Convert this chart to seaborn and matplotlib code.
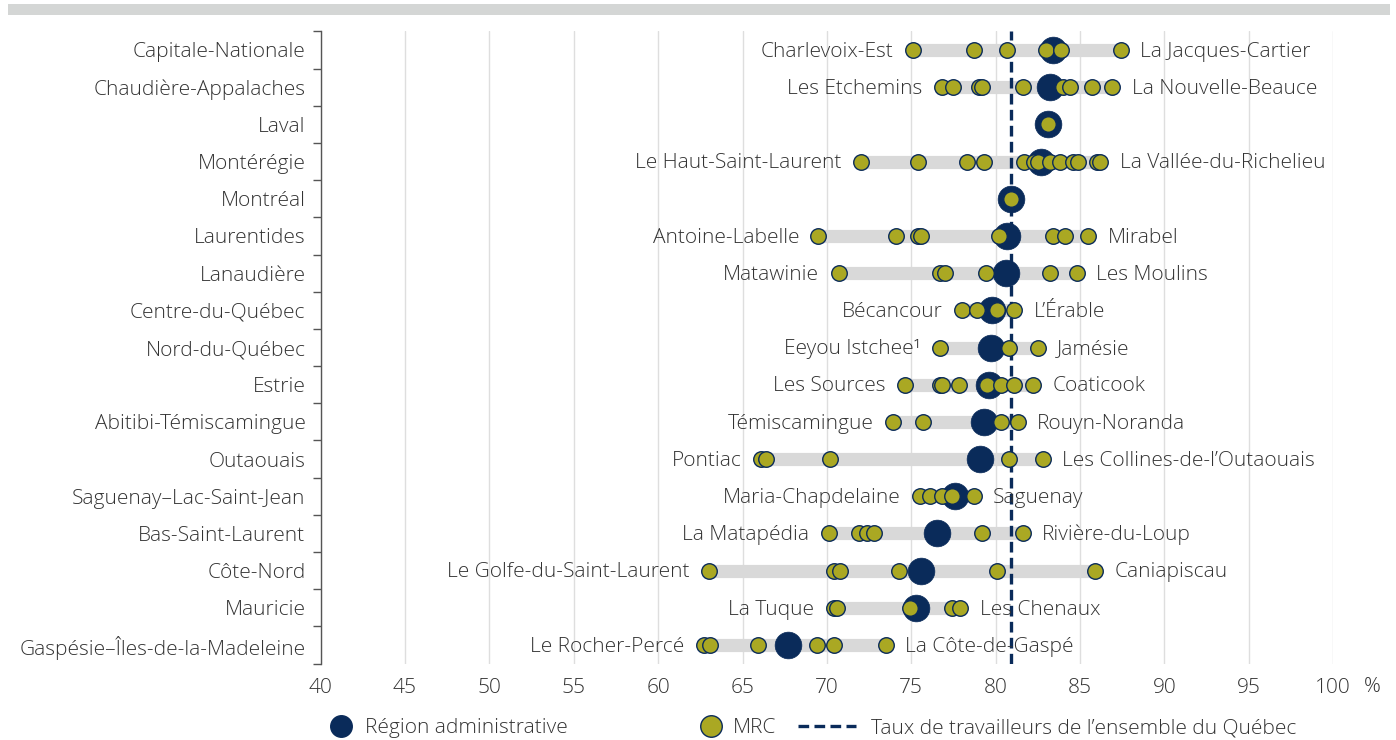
import numpy as np
import pandas as pd
import matplotlib.pyplot as plt
import seaborn as sns
from matplotlib.lines import Line2D
from matplotlib.patches import Rectangle
import matplotlib.transforms as mtransforms

# regions, top to bottom
regions = ['Capitale-Nationale', 'Chaudière-Appalaches', 'Laval', 'Montérégie', 'Montréal',
           'Laurentides', 'Lanaudière', 'Centre-du-Québec', 'Nord-du-Québec', 'Estrie',
           'Abitibi-Témiscamingue', 'Outaouais', 'Saguenay–Lac-Saint-Jean', 'Bas-Saint-Laurent',
           'Côte-Nord', 'Mauricie', 'Gaspésie–Îles-de-la-Madeleine']

region_rates = [83.4, 83.2, 83.1, 82.7, 80.9, 80.7, 80.6, 79.8, 79.7, 79.6,
                79.3, 79.1, 77.6, 76.5, 75.6, 75.3, 67.7]

mrc_rates = [
    [75.1, 78.7, 80.7, 83.0, 83.9, 87.4],
    [76.8, 77.5, 79.0, 79.2, 81.6, 84.0, 84.4, 85.7, 86.9],
    [83.1],
    [72.0, 75.4, 78.3, 79.3, 81.7, 82.3, 82.5, 83.2, 83.8, 84.6, 84.9, 86.0, 86.2],
    [80.9],
    [69.5, 74.1, 75.4, 75.6, 80.2, 83.4, 84.1, 85.5],
    [70.7, 76.7, 77.0, 79.4, 83.2, 84.8],
    [78.0, 78.9, 80.1, 81.1],
    [76.7, 80.8, 82.5],
    [74.6, 76.7, 76.8, 77.8, 79.4, 79.5, 80.3, 81.1, 82.2],
    [73.9, 75.7, 80.3, 81.3],
    [66.1, 66.4, 70.2, 80.8, 82.8],
    [75.5, 76.1, 76.8, 77.4, 78.7],
    [70.1, 71.9, 72.4, 72.8, 79.2, 81.6],
    [63.0, 70.4, 70.8, 74.3, 80.1, 85.9],
    [70.4, 70.6, 74.9, 77.4, 77.9],
    [62.7, 63.1, 65.9, 69.4, 70.4, 73.5],
]

low_names = ['Charlevoix-Est', 'Les Etchemins', '', 'Le Haut-Saint-Laurent', '',
             'Antoine-Labelle', 'Matawinie', 'Bécancour', 'Eeyou Istchee¹', 'Les Sources',
             'Témiscamingue', 'Pontiac', 'Maria-Chapdelaine', 'La Matapédia',
             'Le Golfe-du-Saint-Laurent', 'La Tuque', 'Le Rocher-Percé']
high_names = ['La Jacques-Cartier', 'La Nouvelle-Beauce', '', 'La Vallée-du-Richelieu', '',
              'Mirabel', 'Les Moulins', 'L’Érable', 'Jamésie', 'Coaticook',
              'Rouyn-Noranda', 'Les Collines-de-l’Outaouais', 'Saguenay', 'Rivière-du-Loup',
              'Caniapiscau', 'Les Chenaux', 'La Côte-de-Gaspé']

quebec_rate = 80.9
x_ticks = [40, 45, 50, 55, 60, 65, 70, 75, 80, 85, 90, 95, 100]

navy = '#0a2b5a'
olive = '#aaa823'
bar_grey = '#d9d9d9'
txt = '#333333'
fs = 15

sns.set_theme(style='white')
plt.rcParams['font.family'] = ['Open Sans', 'DejaVu Sans']
plt.rcParams['font.weight'] = 'light'

pos = list(range(len(regions)))
reg_df = pd.DataFrame({'region': regions, 'pos': pos, 'taux': region_rates})
mrc_df = pd.DataFrame([(r, p, v) for r, p, vals in zip(regions, pos, mrc_rates) for v in vals],
                      columns=['region', 'pos', 'taux'])

fig = plt.figure(figsize=(13.96, 7.4), dpi=100)
fig.add_artist(Rectangle((0.006, 0.98), 0.99, 0.0145, transform=fig.transFigure,
                         color='#d4d6d5', lw=0))
ax = fig.add_axes([0.2297, 0.1032, 0.7253, 0.8544])

# grey range bars
ax.hlines(pos, [min(v) for v in mrc_rates], [max(v) for v in mrc_rates],
          color=bar_grey, lw=9.5, capstyle='butt', zorder=1)
ax.axvline(quebec_rate, color=navy, lw=2.4, ls=(0, (3.2, 1.6)), zorder=2)

sns.scatterplot(data=reg_df, x='taux', y='pos', s=370, color=navy, edgecolor=navy,
                linewidth=0.5, zorder=3, ax=ax, legend=False)
sns.scatterplot(data=mrc_df, x='taux', y='pos', s=125, color=olive, edgecolor=navy,
                linewidth=1, zorder=4, ax=ax, legend=False)

for p, vals, lo, hi in zip(pos, mrc_rates, low_names, high_names):
    if lo:
        ax.annotate(lo, (min(vals), p), xytext=(-14, -1.2), textcoords='offset points',
                    ha='right', va='center', fontsize=fs, color=txt)
    if hi:
        ax.annotate(hi, (max(vals), p), xytext=(14, -1.2), textcoords='offset points',
                    ha='left', va='center', fontsize=fs, color=txt)

ax.set_xlim(40, 100)
ax.set_ylim(len(regions) - 0.5, -0.5)
ax.set_xticks(x_ticks)
ax.set_xticklabels([str(t) for t in x_ticks])
ax.set_yticks(pos)
ax.set_yticklabels(regions)
ax.set_yticks(np.arange(-0.5, len(regions), 1), minor=True)
ax.tick_params(axis='y', which='major', left=False, length=0, pad=11, labelsize=fs, labelcolor=txt)
ax.tick_params(axis='y', which='minor', left=True, length=6, width=1, color='#555555', direction='out')
ax.tick_params(axis='x', length=0, pad=10, labelsize=fs, labelcolor=txt)
ax.set_xlabel('')
ax.set_ylabel('')
ax.grid(axis='x', color='#dedede', lw=1)
ax.grid(axis='y', visible=False)
for s in ['top', 'right', 'bottom']:
    ax.spines[s].set_visible(False)
ax.spines['left'].set_color('#555555')
ax.spines['left'].set_linewidth(1)

trans = mtransforms.blended_transform_factory(ax.transData, ax.transAxes)
ax.text(102.3, -0.037, '%', transform=trans, ha='center', va='center', fontsize=fs,
        color=txt, clip_on=False)

# legend, three separate entries
entries = [
    (Line2D([], [], marker='o', ls='', markersize=15.5, color=navy), 'Région administrative', 0.2335, 1.4, 0.45),
    (Line2D([], [], marker='o', ls='', markersize=15.5, markerfacecolor=olive, markeredgecolor=navy), 'MRC', 0.499, 1.4, 0.35),
    (Line2D([], [], color=navy, lw=2.4, ls=(0, (3.2, 1.6))), 'Taux de travailleurs de l’ensemble du Québec', 0.5716, 2.8, 0.7),
]
for h, lab, xpos, hl, tp in entries:
    fig.legend([h], [lab], loc='center left', bbox_to_anchor=(xpos, 0.016), frameon=False,
               fontsize=fs, handlelength=hl, handletextpad=tp, borderpad=0, borderaxespad=0,
               labelcolor=txt)

fig.savefig('out.png', dpi=100)
